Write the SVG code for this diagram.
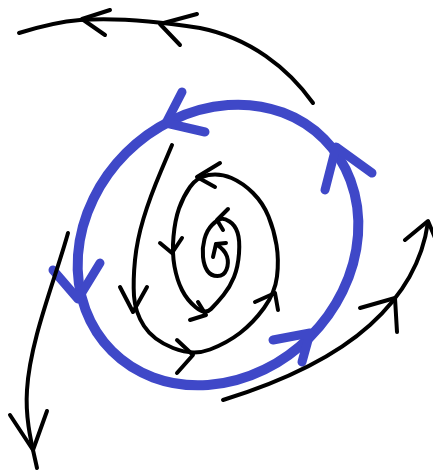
<svg xmlns="http://www.w3.org/2000/svg" width="433" height="472" viewBox="0 0 433 472">
<style>
.traj{fill:none;stroke:#000;stroke-width:4;stroke-linecap:round;stroke-linejoin:round}
.cyc{fill:none;stroke:#3f48c8;stroke-width:10;stroke-linecap:round;stroke-linejoin:round}
.cyca{fill:none;stroke:#3f48c8;stroke-width:9;stroke-linecap:round;stroke-linejoin:round}
</style>
<rect width="433" height="472" fill="#fff"/>
<g id="limit-cycle">
<ellipse class="cyc" cx="218" cy="245" rx="150" ry="130" transform="rotate(-45 218 245)"/>
<path class="cyca" d="M182,92 L166,123 L205,132"/>
<path class="cyca" d="M325,190 L336,147 L372,173"/>
<path class="cyca" d="M53,270 L78,299 L100,263"/>
<path class="cyca" d="M273,340 L310,333 L302,362"/>
</g>
<g id="trajectories">
<g id="top-trajectory">
<path class="traj" d="M313,103 C288,68 250,38 200,28 C150,20 110,18 80,20 C55,22 35,28 19,33"/>
<path class="traj" d="M197,14 L160,24 L180,45"/>
<path class="traj" d="M110,10 L82,19 L105,35"/>
</g>
<g id="left-trajectory">
<path class="traj" d="M68,233 C55,280 30,340 27,390 C25,420 32,445 37,468"/>
<path class="traj" d="M10,415 L33,450 L47,411"/>
</g>
<g id="right-trajectory">
<path class="traj" d="M223,400 Q320,370 370,325 T428,222"/>
<path class="traj" d="M360,308 L395,298 L397,332"/>
<path class="traj" d="M405,240 L428,221 L440,250"/>
</g>
<g id="spiral">
<path class="traj" d="M172,145 L161,171 Q150,197 143.5,218.5 Q137,240 135,260 Q133,280 134,296 Q135,312 144,326 Q153,340 173,348 Q193,356 210,349.5 Q227,343 240,333 Q253,323 264,308 Q275,293 277,276.5 Q279,260 276.5,245 Q274,230 268.5,216.5 Q263,203 253,193 Q243,183 231.5,178 Q220,173 208.5,175 Q197,177 190,187 Q183,197 179,208.5 Q175,220 173.5,236.5 Q172,253 174.5,266.5 Q177,280 182,290 Q187,300 196,307.5 Q205,315 211,309 Q217,303 223.5,295 Q230,287 234,277 Q238,267 239,253.5 Q240,240 237.5,232.5 Q235,225 229.5,221.5 Q224,218 220.5,219 Q217,220 212,225 Q207,230 204.5,239 Q202,248 203,257 Q204,266 207.5,271 Q211,276 217.5,276 Q224,276 226.5,269.5 Q229,263 227,256.5 Q225,250 216,244"/>
<path class="traj" d="M120,287 L133,312 L147,287"/>
<path class="traj" d="M177,340 L193,355 L177,373"/>
<path class="traj" d="M255,302 L275,293 L278,310"/>
<path class="traj" d="M220,163 L197,177 L215,187"/>
<path class="traj" d="M160,243 L172,253 L182,238"/>
<path class="traj" d="M190,320 L206,315 L198,302"/>
<path class="traj" d="M228,209 L217,220 L223,230"/>
<path class="traj" d="M226,243 L216,244 L213,257"/>
</g>
</g>
</svg>
